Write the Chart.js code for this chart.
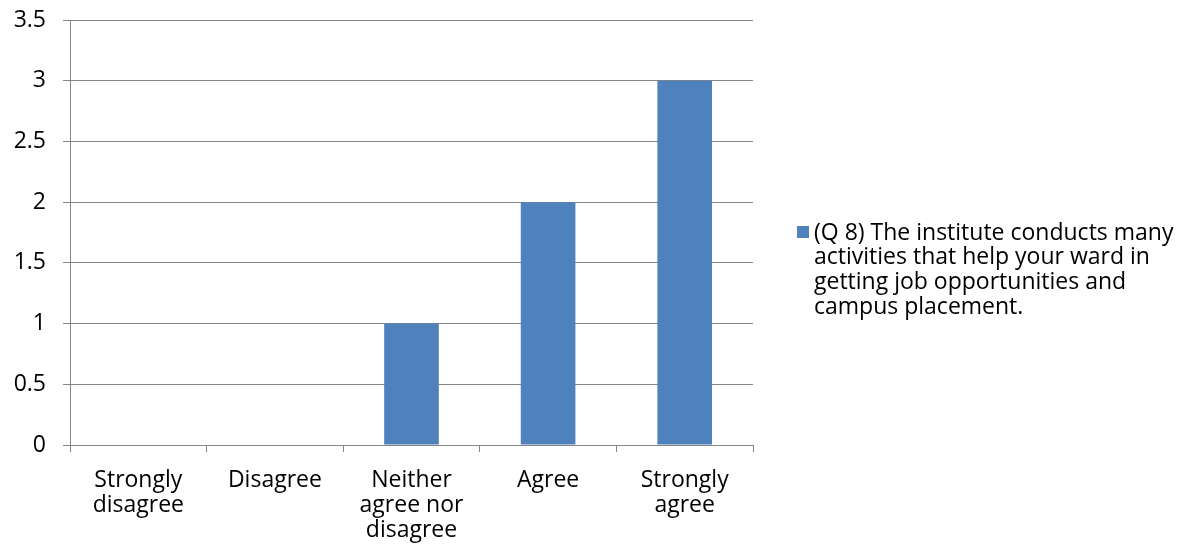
<!DOCTYPE html>
<html>
<head>
<meta charset="utf-8">
<script src="https://cdn.jsdelivr.net/npm/chart.js@4/dist/chart.umd.min.js"></script>
<style>
    html, body { margin: 0; padding: 0; background: #ffffff; }
    #wrap { width: 1193px; height: 556px; position: relative; }
</style>
</head>
<body>
<div id="wrap"><canvas id="likertChart"></canvas></div>
<script>
// Chart data
const categories = [
    ['Strongly', 'disagree'],
    ['Disagree'],
    ['Neither', 'agree nor', 'disagree'],
    ['Agree'],
    ['Strongly', 'agree']
];
const responses = [0, 0, 1, 2, 3];
const seriesLines = [
    '(Q 8) The institute conducts many',
    'activities that help your ward in',
    'getting job opportunities and',
    'campus placement.'
];
const seriesName = seriesLines.join(' ');

const barColor = '#4F81BD';
const axisColor = '#868686';
const fontFamily = '"Open Sans", Lato, sans-serif';
const fontSize = 23;

// Draw the right-hand legend with wrapped text
const sideLegend = {
    id: 'sideLegend',
    afterDraw: function (chart) {
        const ctx = chart.ctx;
        const area = chart.chartArea;
        const x = area.right + 44;
        const y = 233;
        ctx.save();
        ctx.fillStyle = barColor;
        ctx.fillRect(x, y - 7, 12, 12);
        ctx.fillStyle = '#000000';
        ctx.font = fontSize + 'px ' + fontFamily;
        ctx.textBaseline = 'middle';
        seriesLines.forEach(function (line, i) {
            ctx.fillText(line, x + 17, y + i * 24.7);
        });
        ctx.restore();
    }
};

document.addEventListener('DOMContentLoaded', function () {
    const ctx = document.getElementById('likertChart').getContext('2d');
    new Chart(ctx, {
        type: 'bar',
        data: {
            labels: categories,
            datasets: [{
                label: seriesName,
                data: responses,
                backgroundColor: barColor,
                borderWidth: 0,
                categoryPercentage: 1,
                barPercentage: 0.4
            }]
        },
        options: {
            responsive: true,
            maintainAspectRatio: false,
            animation: false,
            layout: {
                padding: { top: 20, right: 440, bottom: 0, left: 0 }
            },
            scales: {
                y: {
                    min: 0,
                    max: 3.5,
                    ticks: {
                        stepSize: 0.5,
                        color: '#000000',
                        padding: 17,
                        font: { family: fontFamily, size: fontSize },
                        callback: function (value) { return String(value); }
                    },
                    grid: {
                        color: axisColor,
                        tickLength: 7
                    },
                    border: { color: axisColor },
                    afterFit: function (scale) {
                        scale.width = 70;
                        scale.paddingTop = 0;
                        scale.paddingBottom = 0;
                    }
                },
                x: {
                    ticks: {
                        color: '#000000',
                        padding: 16,
                        font: { family: fontFamily, size: fontSize, lineHeight: 25 / fontSize }
                    },
                    grid: {
                        color: axisColor,
                        drawOnChartArea: false,
                        tickLength: 7,
                        offset: true
                    },
                    border: { color: axisColor },
                    afterFit: function (scale) { scale.height = 111; }
                }
            },
            plugins: {
                legend: { display: false },
                tooltip: { enabled: false }
            }
        },
        plugins: [sideLegend]
    });
});
</script>
</body>
</html>
